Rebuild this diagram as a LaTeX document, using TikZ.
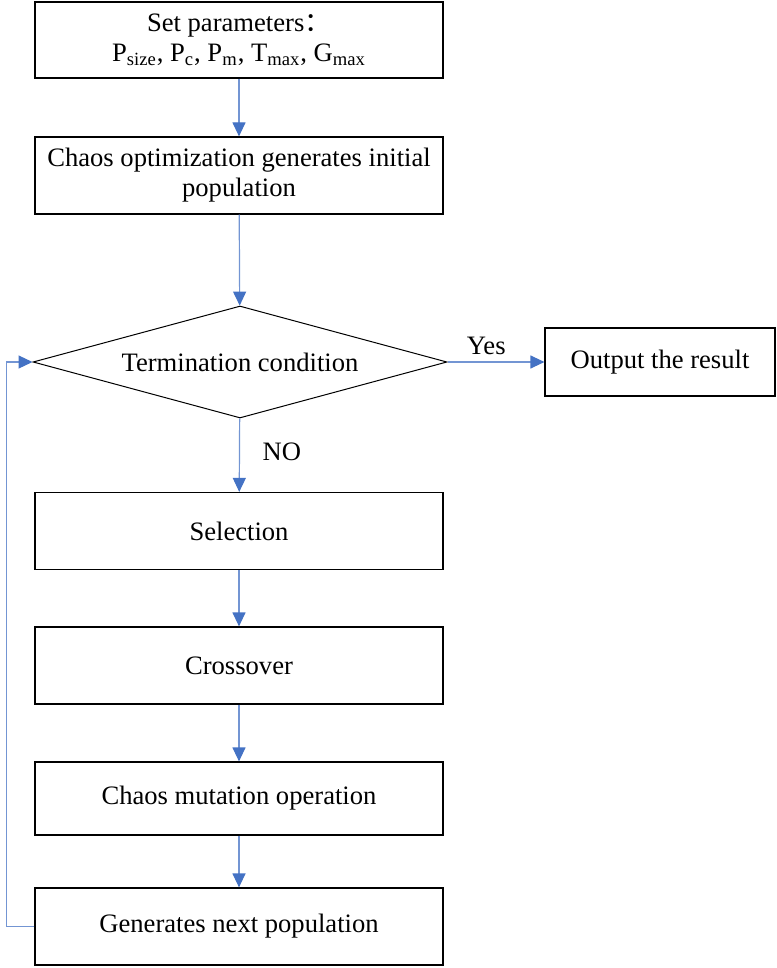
\documentclass[tikz,border=0pt]{standalone}
\usepackage{fontspec}
\setmainfont{Liberation Serif}
\newfontfamily\cjk{Noto Sans CJK SC}
\usetikzlibrary{shapes.geometric,arrows.meta}
\definecolor{flowblue}{RGB}{68,114,196}
\begin{document}
\begin{tikzpicture}[x=0.5pt, y=-0.5pt,
    every node/.style = {font=\fontsize{13.3}{15}\selectfont},
    procbox/.style = {draw=black, line width=0.6pt, minimum width=204pt, minimum height=38.5pt, align=center, inner sep=2pt},
    decide/.style = {draw=black, line width=0.5pt, diamond, aspect=3.7, inner sep=0pt, minimum width=207pt, minimum height=56pt},
    flow/.style = {draw=flowblue!75, line width=0.6pt, -{Triangle[width=6.5pt,length=7pt,color=flowblue]}}]
    \useasboundingbox (0,0) rectangle (776,968);
    \node[procbox, minimum height=38pt] (setpar) at (239,40) {Set parameters\cjk{：}\\P\textsubscript{size}, P\textsubscript{c}, P\textsubscript{m}, T\textsubscript{max}, G\textsubscript{max}};
    \node[procbox] (chaosinit) at (239,175.5) {Chaos optimization generates initial\\population};
    \node[decide] (term) at (240,362) {Termination condition};
    \node[procbox, minimum width=115pt, minimum height=34pt] (output) at (660,362) {Output the result};
    \node[procbox] (select) at (239,531) {Selection};
    \node[procbox] (cross) at (239,665.5) {Crossover};
    \node[procbox, minimum height=36.5pt] (mutate) at (239,798.5) {Chaos mutation operation};
    \node[procbox] (nextgen) at (239,926.5) {Generates next population};
    % arrows
    \draw[flow] (setpar) -- (chaosinit);
    \draw[flow] (chaosinit) -- (term);
    \draw[flow] (term) -- node[above, pos=0.4] (yes) {Yes} (output);
    \draw[flow] (term) -- node[right, pos=0.45, xshift=8pt] (no) {NO} (select);
    \draw[flow] (select) -- (cross);
    \draw[flow] (cross) -- (mutate);
    \draw[flow] (mutate) -- (nextgen);
    \draw[flow] (nextgen.west) -- ++(-28,0) |- (term.west);
\end{tikzpicture}
\end{document}
